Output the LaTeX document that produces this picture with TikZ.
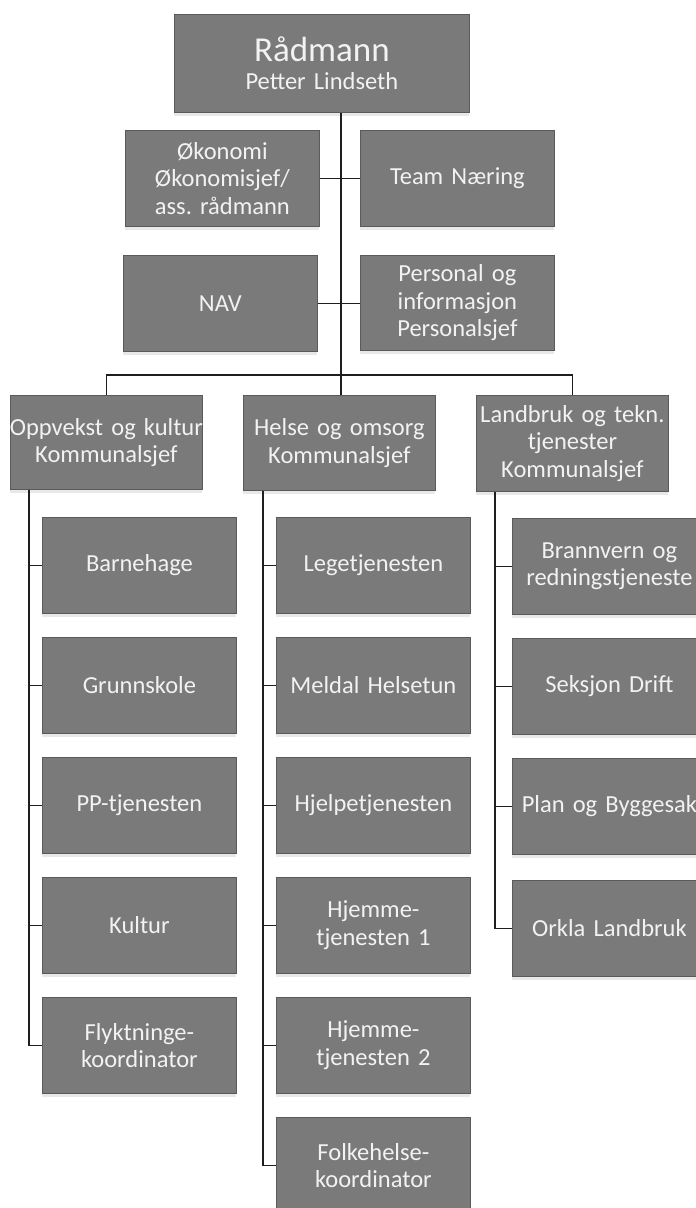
\documentclass[tikz,border=0pt]{standalone}
\usepackage{fontspec}
\setmainfont[WordSpace=0.5]{Carlito}
\usetikzlibrary{shadows}
\definecolor{boxgray}{RGB}{122,122,122}
\definecolor{boxline}{RGB}{90,90,90}
\definecolor{boxtext}{RGB}{242,242,242}
\definecolor{linecol}{RGB}{30,30,30}
\tikzset{
  orgbox/.style={draw=boxline, line width=0.8pt, fill=boxgray, text=boxtext,
    anchor=north west, inner sep=0pt, align=center,
    font=\fontsize{24.5}{27.5}\selectfont\frenchspacing,
    drop shadow={shadow xshift=0pt, shadow yshift=-4pt, opacity=0.18, fill=gray}},
  conn/.style={draw=linecol, line width=1.3pt}
}
\begin{document}
\begin{tikzpicture}[x=1pt,y=-1pt]
\useasboundingbox[fill=white] (0,0) rectangle (696,1208);
\begin{scope}
\clip (0,0) rectangle (696,1208);
% top level
\node[orgbox, minimum width=295pt, minimum height=98pt, text width=290pt] (rad) at (174,14)
  {{\fontsize{35}{36}\selectfont Rådmann}\\[1pt]Petter Lindseth};
\node[orgbox, minimum width=194pt, minimum height=96pt, text width=190pt] (oko) at (125,130) {Økonomi\\Økonomisjef/\\ass. rådmann};
\node[orgbox, minimum width=194pt, minimum height=96pt, text width=190pt] (team) at (360,130) {Team Næring};
\node[orgbox, minimum width=194pt, minimum height=96pt, text width=190pt] (nav) at (123,255) {NAV};
\node[orgbox, minimum width=194pt, minimum height=95pt, text width=190pt] (pers) at (360,255) {Personal og\\informasjon\\Personalsjef};
% second level
\node[orgbox, minimum width=192pt, minimum height=94pt, text width=192pt] (opp) at (10,395) {\makebox[192pt]{Oppvekst og kultur}\\Kommunalsjef};
\node[orgbox, minimum width=192pt, minimum height=95pt, text width=190pt] (hel) at (243,395) {Helse og omsorg\\Kommunalsjef};
\node[orgbox, minimum width=192pt, minimum height=96pt, text width=192pt] (lan) at (476,395) {Landbruk og tekn.\\tjenester\\Kommunalsjef};
% left column
\node[orgbox, minimum width=194pt, minimum height=96pt, text width=190pt] (a1) at (42,517) {Barnehage};
\node[orgbox, minimum width=194pt, minimum height=96pt, text width=190pt] (a2) at (42,637) {Grunnskole};
\node[orgbox, minimum width=194pt, minimum height=96pt, text width=190pt] (a3) at (42,757) {PP-tjenesten};
\node[orgbox, minimum width=194pt, minimum height=96pt, text width=190pt] (a4) at (42,877) {Kultur};
\node[orgbox, minimum width=194pt, minimum height=96pt, text width=190pt] (a5) at (42,997) {Flyktninge-\\koordinator};
% middle column
\node[orgbox, minimum width=194pt, minimum height=96pt, text width=190pt] (b1) at (276,517) {Legetjenesten};
\node[orgbox, minimum width=194pt, minimum height=96pt, text width=190pt] (b2) at (276,637) {Meldal Helsetun};
\node[orgbox, minimum width=194pt, minimum height=96pt, text width=190pt] (b3) at (276,757) {Hjelpetjenesten};
\node[orgbox, minimum width=194pt, minimum height=96pt, text width=190pt] (b4) at (276,877) {Hjemme-\\tjenesten 1};
\node[orgbox, minimum width=194pt, minimum height=96pt, text width=190pt] (b5) at (276,997) {Hjemme-\\tjenesten 2};
\node[orgbox, minimum width=194pt, minimum height=96pt, text width=190pt] (b6) at (276,1117) {Folkehelse-\\koordinator};
% right column
\node[orgbox, minimum width=194pt, minimum height=96pt, text width=194pt] (c1) at (512,518) {Brannvern og\\redningstjeneste};
\node[orgbox, minimum width=194pt, minimum height=96pt, text width=190pt] (c2) at (512,638) {Seksjon Drift};
\node[orgbox, minimum width=194pt, minimum height=96pt, text width=190pt] (c3) at (512,758) {Plan og Byggesak};
\node[orgbox, minimum width=194pt, minimum height=96pt, text width=190pt] (c4) at (512,880) {Orkla Landbruk};
% spine coordinates
\coordinate (sp) at (341,375);
\coordinate (ls) at (29,0);
\coordinate (ms) at (263,0);
\coordinate (rs) at (495,0);
% connectors
\draw[conn] (sp |- rad.south) -- (sp |- hel.north);
\draw[conn] (oko.east) -- (team.west);
\draw[conn] (nav.east) -- (nav.east -| pers.west);
\draw[conn] (opp.north) |- (sp) -| (lan.north);
\foreach \n in {a1,a2,a3,a4,a5} \draw[conn] (ls |- opp.south) |- (\n.west);
\foreach \n in {b1,b2,b3,b4,b5,b6} \draw[conn] (ms |- hel.south) |- (\n.west);
\foreach \n in {c1,c2,c3,c4} \draw[conn] (rs |- lan.south) |- (\n.west);
\end{scope}
\end{tikzpicture}
\end{document}
